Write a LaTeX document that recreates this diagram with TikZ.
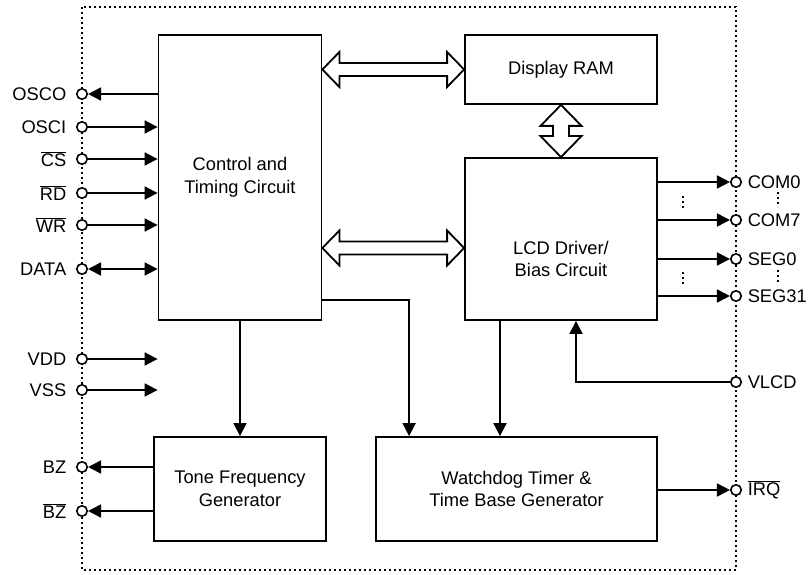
\documentclass[tikz,border=0pt]{standalone}
\usepackage{fontspec}
\setmainfont{Liberation Sans}
\usetikzlibrary{arrows.meta,calc}

\tikzset{
  blk/.style={draw,line width=1.8pt,inner sep=0pt,align=center},
  pin/.style={circle,draw,fill=white,line width=1.6pt,minimum size=10.5pt,inner sep=0pt},
  lbl/.style={label distance=7.5pt,inner sep=2pt},
  rlbl/.style={label distance=3.5pt,inner sep=2pt},
  sig/.style={line width=1.8pt,-{Triangle[length=13pt,width=13pt]}},
  dsig/.style={line width=1.8pt,{Triangle[length=13pt,width=13pt]}-{Triangle[length=13pt,width=13pt]}},
  bus/.style={line width=1.8pt,fill=white,line join=miter},
  dots/.style={line width=2pt,dash pattern=on 2pt off 3pt}
}

\newcommand\hbus[2]{\draw[bus] (#1) -- ++(17,-17.5) -- ++(0,11) -- ($(#2)+(-17,-6.5)$) -- ++(0,-11) -- (#2) -- ++(-17,17.5) -- ++(0,-11) -- ($(#1)+(17,6.5)$) -- ++(0,11) -- cycle;}
\newcommand\vbus[2]{\draw[bus] (#1) -- ++(20.5,21) -- ++(-12.5,0) -- ($(#2)+(8,-21)$) -- ++(12.5,0) -- (#2) -- ++(-20.5,-21) -- ++(12.5,0) -- ($(#1)+(-8,21)$) -- ++(-12.5,0) -- cycle;}

\begin{document}
\begin{tikzpicture}[x=1pt,y=-1pt,font=\fontsize{18.3}{22.5}\selectfont]
\useasboundingbox (0,0) rectangle (809,575);
\draw[line width=1.7pt,dash pattern=on 2pt off 3pt] (82,7) rectangle (736,570);

\node[blk,minimum width=163pt,minimum height=285pt] (ctrl) at (240,177.5) {Control and\\Timing Circuit};
\node[blk,minimum width=192pt,minimum height=69pt] (ram) at (561,69.5) {Display RAM};
\node[blk,minimum width=192pt,minimum height=162pt] (lcd) at (561,239) {};
\node[align=center] (lcdtxt) at ([yshift=-20pt]lcd.center) {LCD Driver/\\Bias Circuit};
\node[blk,minimum width=172pt,minimum height=104pt] (tone) at (240,489) {Tone Frequency\\Generator};
\node[blk,minimum width=281pt,minimum height=104pt] (wdt) at (516.5,489) {Watchdog Timer \&\\Time Base Generator};

\coordinate (b1s) at (ctrl.east |- ram.west);
\hbus{b1s}{ram.west}
\coordinate (b2e) at ([yshift=-9pt]lcd.west);
\coordinate (b2s) at (ctrl.east |- b2e);
\hbus{b2s}{b2e}
\vbus{ram.south}{lcd.north}

\node[pin,label={[lbl]left:OSCO}] (osco) at (82,94) {};
\node[pin,label={[lbl]left:OSCI}] (osci) at (82,127) {};
\node[pin,label={[lbl]left:$\overline{\mbox{CS}}$}] (cs) at (82,159) {};
\node[pin,label={[lbl]left:$\overline{\mbox{RD}}$}] (rd) at (82,193) {};
\node[pin,label={[lbl]left:$\overline{\mbox{WR}}$}] (wr) at (82,225) {};
\node[pin,label={[lbl]left:DATA}] (data) at (82,269) {};
\node[pin,label={[lbl]left:VDD}] (vdd) at (82,359) {};
\node[pin,label={[lbl]left:VSS}] (vss) at (82,390) {};
\node[pin,label={[lbl]left:BZ}] (bz) at (82,467) {};
\node[pin,label={[lbl]left:$\overline{\mbox{BZ}}$}] (nbz) at (82,511) {};

\draw[sig] (ctrl.west |- osco) -- (osco);
\draw[sig] (osci) -- (ctrl.west |- osci);
\draw[sig] (cs) -- (ctrl.west |- cs);
\draw[sig] (rd) -- (ctrl.west |- rd);
\draw[sig] (wr) -- (ctrl.west |- wr);
\draw[dsig] (data) -- (ctrl.west |- data);
\draw[sig] (vdd) -- (ctrl.west |- vdd);
\draw[sig] (vss) -- (ctrl.west |- vss);
\draw[sig] (tone.west |- bz) -- (bz);
\draw[sig] (tone.west |- nbz) -- (nbz);

\node[pin,label={[rlbl]right:COM0}] (com0) at (736,182) {};
\node[pin,label={[rlbl]right:COM7}] (com7) at (736,220) {};
\node[pin,label={[rlbl]right:SEG0}] (seg0) at (736,259) {};
\node[pin,label={[rlbl]right:SEG31}] (seg31) at (736,296) {};
\node[pin,label={[rlbl]right:VLCD}] (vlcd) at (736,382) {};
\node[pin,label={[rlbl]right:$\overline{\mbox{IRQ}}$}] (irq) at (736,490) {};

\draw[sig] (lcd.east |- com0) -- (com0);
\draw[sig] (lcd.east |- com7) -- (com7);
\draw[sig] (lcd.east |- seg0) -- (seg0);
\draw[sig] (lcd.east |- seg31) -- (seg31);
\draw[sig] (vlcd) -| ([xshift=15pt]lcd.south);
\draw[sig] (wdt.east |- irq) -- (irq);

\draw[dots] (683,196) -- (683,210);
\draw[dots] (683,272) -- (683,286);
\draw[dots] (778,192) -- (778,207);
\draw[dots] (778,270) -- (778,285);

\draw[sig] (ctrl.south) -- (ctrl.south |- tone.north);
\draw[sig] ([yshift=21pt]ctrl.south east) -| ([xshift=34pt]wdt.north west);
\coordinate (lw) at ([xshift=-61pt]lcd.south);
\draw[sig] (lw) -- (lw |- wdt.north);

\end{tikzpicture}
\end{document}
